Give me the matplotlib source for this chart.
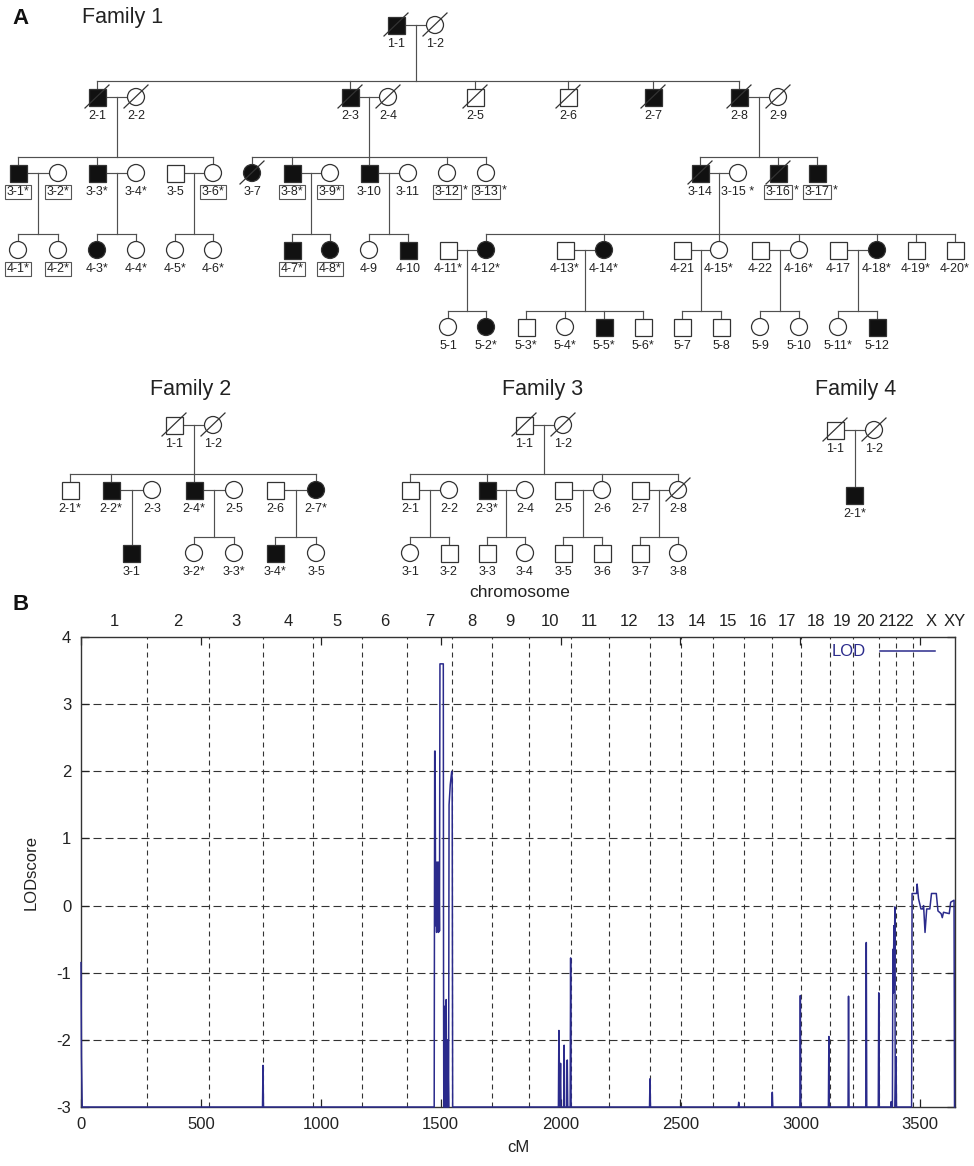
import matplotlib.pyplot as plt
from matplotlib.patches import Rectangle, Circle
from matplotlib.transforms import blended_transform_factory

plt.rcParams['font.family'] = ['Liberation Sans', 'DejaVu Sans']
plt.rcParams['axes.unicode_minus'] = False

# ---------------- pedigree data ----------------
# (id, sex, affected, deceased, label)   "[..]" marks the boxed part of a label
fam1_people = [
    ('1-1', 'm', 1, 1, '1-1'), ('1-2', 'f', 0, 1, '1-2'),
    ('2-1', 'm', 1, 1, '2-1'), ('2-2', 'f', 0, 1, '2-2'),
    ('2-3', 'm', 1, 1, '2-3'), ('2-4', 'f', 0, 1, '2-4'),
    ('2-5', 'm', 0, 1, '2-5'), ('2-6', 'm', 0, 1, '2-6'),
    ('2-7', 'm', 1, 1, '2-7'), ('2-8', 'm', 1, 1, '2-8'), ('2-9', 'f', 0, 1, '2-9'),
    ('3-1', 'm', 1, 0, '[3-1*]'), ('3-2', 'f', 0, 0, '[3-2*]'),
    ('3-3', 'm', 1, 0, '3-3*'), ('3-4', 'f', 0, 0, '3-4*'),
    ('3-5', 'm', 0, 0, '3-5'), ('3-6', 'f', 0, 0, '[3-6*]'),
    ('3-7', 'f', 1, 1, '3-7'), ('3-8', 'm', 1, 0, '[3-8*]'), ('3-9', 'f', 0, 0, '[3-9*]'),
    ('3-10', 'm', 1, 0, '3-10'), ('3-11', 'f', 0, 0, '3-11'),
    ('3-12', 'f', 0, 0, '[3-12]*'), ('3-13', 'f', 0, 0, '[3-13]*'),
    ('3-14', 'm', 1, 1, '3-14'), ('3-15', 'f', 0, 0, '3-15 *'),
    ('3-16', 'm', 1, 1, '[3-16]*'), ('3-17', 'm', 1, 0, '[3-17]*'),
    ('4-1', 'f', 0, 0, '[4-1*]'), ('4-2', 'f', 0, 0, '[4-2*]'),
    ('4-3', 'f', 1, 0, '4-3*'), ('4-4', 'f', 0, 0, '4-4*'),
    ('4-5', 'f', 0, 0, '4-5*'), ('4-6', 'f', 0, 0, '4-6*'),
    ('4-7', 'm', 1, 0, '[4-7*]'), ('4-8', 'f', 1, 0, '[4-8*]'),
    ('4-9', 'f', 0, 0, '4-9'), ('4-10', 'm', 1, 0, '4-10'),
    ('4-11', 'm', 0, 0, '4-11*'), ('4-12', 'f', 1, 0, '4-12*'),
    ('4-13', 'm', 0, 0, '4-13*'), ('4-14', 'f', 1, 0, '4-14*'),
    ('4-21', 'm', 0, 0, '4-21'), ('4-15', 'f', 0, 0, '4-15*'),
    ('4-22', 'm', 0, 0, '4-22'), ('4-16', 'f', 0, 0, '4-16*'),
    ('4-17', 'm', 0, 0, '4-17'), ('4-18', 'f', 1, 0, '4-18*'),
    ('4-19', 'm', 0, 0, '4-19*'), ('4-20', 'm', 0, 0, '4-20*'),
    ('5-1', 'f', 0, 0, '5-1'), ('5-2', 'f', 1, 0, '5-2*'),
    ('5-3', 'm', 0, 0, '5-3*'), ('5-4', 'f', 0, 0, '5-4*'),
    ('5-5', 'm', 1, 0, '5-5*'), ('5-6', 'm', 0, 0, '5-6*'),
    ('5-7', 'm', 0, 0, '5-7'), ('5-8', 'm', 0, 0, '5-8'),
    ('5-9', 'f', 0, 0, '5-9'), ('5-10', 'f', 0, 0, '5-10'),
    ('5-11', 'f', 0, 0, '5-11*'), ('5-12', 'm', 1, 0, '5-12'),
]
fam1_unions = [
    (('1-1', '1-2'), ['2-1', '2-3', '2-5', '2-6', '2-7', '2-8']),
    (('2-1', '2-2'), ['3-1', '3-3', '3-6']),
    (('2-3', '2-4'), ['3-7', '3-8', '3-10', '3-12', '3-13']),
    (('2-8', '2-9'), ['3-14', '3-16', '3-17']),
    (('3-1', '3-2'), ['4-1', '4-2']),
    (('3-3', '3-4'), ['4-3', '4-4']),
    (('3-5', '3-6'), ['4-5', '4-6']),
    (('3-8', '3-9'), ['4-7', '4-8']),
    (('3-10', '3-11'), ['4-9', '4-10']),
    (('3-14', '3-15'), ['4-12', '4-14', '4-15', '4-16', '4-18', '4-19', '4-20']),
    (('4-11', '4-12'), ['5-1', '5-2']),
    (('4-13', '4-14'), ['5-3', '5-4', '5-5', '5-6']),
    (('4-21', '4-15'), ['5-7', '5-8']),
    (('4-22', '4-16'), ['5-9', '5-10']),
    (('4-17', '4-18'), ['5-11', '5-12']),
]

fam2_people = [
    ('1-1', 'm', 0, 1, '1-1'), ('1-2', 'f', 0, 1, '1-2'),
    ('2-1', 'm', 0, 0, '2-1*'), ('2-2', 'm', 1, 0, '2-2*'), ('2-3', 'f', 0, 0, '2-3'),
    ('2-4', 'm', 1, 0, '2-4*'), ('2-5', 'f', 0, 0, '2-5'),
    ('2-6', 'm', 0, 0, '2-6'), ('2-7', 'f', 1, 0, '2-7*'),
    ('3-1', 'm', 1, 0, '3-1'), ('3-2', 'f', 0, 0, '3-2*'), ('3-3', 'f', 0, 0, '3-3*'),
    ('3-4', 'm', 1, 0, '3-4*'), ('3-5', 'f', 0, 0, '3-5'),
]
fam2_unions = [
    (('1-1', '1-2'), ['2-1', '2-2', '2-4', '2-7']),
    (('2-2', '2-3'), ['3-1']),
    (('2-4', '2-5'), ['3-2', '3-3']),
    (('2-6', '2-7'), ['3-4', '3-5']),
]

fam3_people = [
    ('1-1', 'm', 0, 1, '1-1'), ('1-2', 'f', 0, 1, '1-2'),
    ('2-1', 'm', 0, 0, '2-1'), ('2-2', 'f', 0, 0, '2-2'),
    ('2-3', 'm', 1, 0, '2-3*'), ('2-4', 'f', 0, 0, '2-4'),
    ('2-5', 'm', 0, 0, '2-5'), ('2-6', 'f', 0, 0, '2-6'),
    ('2-7', 'm', 0, 0, '2-7'), ('2-8', 'f', 0, 1, '2-8'),
    ('3-1', 'f', 0, 0, '3-1'), ('3-2', 'm', 0, 0, '3-2'),
    ('3-3', 'm', 0, 0, '3-3'), ('3-4', 'f', 0, 0, '3-4'),
    ('3-5', 'm', 0, 0, '3-5'), ('3-6', 'm', 0, 0, '3-6'),
    ('3-7', 'm', 0, 0, '3-7'), ('3-8', 'f', 0, 0, '3-8'),
]
fam3_unions = [
    (('1-1', '1-2'), ['2-1', '2-3', '2-6', '2-8']),
    (('2-1', '2-2'), ['3-1', '3-2']),
    (('2-3', '2-4'), ['3-3', '3-4']),
    (('2-5', '2-6'), ['3-5', '3-6']),
    (('2-7', '2-8'), ['3-7', '3-8']),
]

fam4_people = [('1-1', 'm', 0, 1, '1-1'), ('1-2', 'f', 0, 1, '1-2'), ('2-1', 'm', 1, 0, '2-1*')]
fam4_unions = [(('1-1', '1-2'), ['2-1'])]

# ---------------- pedigree layout (pixels) ----------------
fam1_x = {'1-1': 396, '1-2': 435,
          '2-1': 97, '2-2': 136, '2-3': 350, '2-4': 388, '2-5': 475, '2-6': 568,
          '2-7': 653, '2-8': 739, '2-9': 778,
          '3-1': 18, '3-2': 58, '3-3': 97, '3-4': 136, '3-5': 175, '3-6': 213,
          '3-7': 252, '3-8': 292, '3-9': 330, '3-10': 369, '3-11': 408, '3-12': 447,
          '3-13': 486, '3-14': 700, '3-15': 738, '3-16': 778, '3-17': 817,
          '4-1': 18, '4-2': 58, '4-3': 97, '4-4': 136, '4-5': 175, '4-6': 213,
          '4-7': 292, '4-8': 330, '4-9': 369, '4-10': 408, '4-11': 448, '4-12': 486,
          '4-13': 565, '4-14': 604, '4-21': 682, '4-15': 719, '4-22': 760, '4-16': 799,
          '4-17': 838, '4-18': 877, '4-19': 916, '4-20': 955,
          '5-1': 448, '5-2': 486, '5-3': 526, '5-4': 565, '5-5': 604, '5-6': 643,
          '5-7': 682, '5-8': 721, '5-9': 760, '5-10': 799, '5-11': 838, '5-12': 877}
fam1_y = [25, 97, 173, 250, 327]
fam2_x = {'1-1': 174, '1-2': 213,
          '2-1': 70, '2-2': 111, '2-3': 152, '2-4': 194, '2-5': 234, '2-6': 275, '2-7': 316,
          '3-1': 131.5, '3-2': 194, '3-3': 234, '3-4': 275, '3-5': 316}
fam2_y = [425, 490, 553]
fam3_x = {'1-1': 524, '1-2': 563,
          '2-1': 410, '2-2': 449, '2-3': 487, '2-4': 525, '2-5': 563, '2-6': 602,
          '2-7': 640, '2-8': 678,
          '3-1': 410, '3-2': 449, '3-3': 487, '3-4': 525, '3-5': 563, '3-6': 602,
          '3-7': 640, '3-8': 678}
fam3_y = [425, 490, 553]
fam4_x = {'1-1': 835, '1-2': 874, '2-1': 854.5}
fam4_y = [430, 495]

# ---------------- linkage data ----------------
lod_cm = [0, 2, 5,
          757, 759, 761,
          1473, 1475, 1477, 1479, 1481, 1483, 1485, 1487, 1489, 1491, 1493, 1495, 1497, 1511,
          1512, 1513, 1515, 1517, 1519, 1521, 1523, 1525, 1527, 1529, 1531, 1533, 1535, 1540,
          1546, 1548, 1550,
          1991, 1993, 1995, 1997, 2000, 2002, 2013, 2015, 2017, 2026, 2028, 2030, 2040, 2042, 2044,
          2371, 2373, 2375,
          2741, 2743, 2745,
          2881, 2883, 2885,
          2998, 3000, 3002,
          3117, 3119, 3121,
          3199, 3201, 3203,
          3273, 3275, 3277,
          3325, 3327, 3329,
          3377, 3379, 3381, 3384, 3386, 3388, 3390, 3392, 3394, 3396, 3399, 3401,
          3464, 3466, 3473, 3485, 3487, 3493, 3503, 3511, 3514, 3520, 3527, 3540, 3547,
          3567, 3574, 3587, 3592, 3597, 3621, 3627, 3641, 3643]
lod_score = [-0.85, -2.25, -3,
             -3, -2.38, -3,
             -3, 2.3, 2.3, -0.3, 0.6, -0.4, 0.65, -0.35, 0.6, -0.4, 0.65, -0.38, 3.6, 3.6,
             -1.2, -3, -1.5, -3, -1.8, -3, -1.4, -3, -2.0, -3, -2.4, -3, 1.5, 1.8,
             2.0, 1.9, -3,
             -3, -1.86, -2.4, -3, -2.35, -3, -3, -2.08, -3, -3, -2.3, -3, -3, -0.78, -3,
             -3, -2.58, -3,
             -3, -2.93, -3,
             -3, -2.78, -3,
             -3, -1.34, -3,
             -3, -1.95, -3,
             -3, -1.35, -3,
             -3, -0.55, -3,
             -3, -1.3, -3,
             -3, -2.92, -3, -3, -0.65, -1.3, -0.3, -1.2, -0.02, -3, -2.25, -3,
             -3, 0.18, 0.18, 0.18, 0.32, 0.1, -0.05, -0.05, 0.0, -0.4, -0.05, -0.05, 0.18,
             0.18, -0.08, -0.12, -0.18, -0.1, -0.12, 0.05, 0.08, -3]
chrom_names = [str(i) for i in range(1, 23)] + ['X', 'XY']
chrom_bounds = [0, 276, 534, 759, 966, 1173, 1361, 1549, 1712, 1868, 2042, 2201, 2373,
                2504, 2635, 2763, 2883, 3004, 3125, 3219, 3326, 3399, 3470, 3645]
chrom_label_at = [(a + b) / 2 for a, b in zip(chrom_bounds[:-1], chrom_bounds[1:-1])] + [3547, 3645]

W, H = 974, 1166
fig = plt.figure(figsize=(W / 100, H / 100), dpi=100)

# overlay in pixel coordinates for the pedigrees
pa = fig.add_axes([0, 0, 1, 1])
pa.set_xlim(0, W)
pa.set_ylim(H, 0)
pa.axis('off')

R = 8.5
LC = '#505050'
LW = 0.85
TXT = '#222222'
LFS = 9


def draw_label(x, y, lab):
    if lab.startswith('['):
        inner, rest = lab[1:].split(']')
        t = pa.text(x, y, inner, ha='center', va='center', fontsize=LFS, color=TXT,
                    bbox=dict(boxstyle='square,pad=0.1', fc='white', ec='#555555', lw=0.8))
        if rest:
            pa.annotate(rest, xy=(1, 0.5), xycoords=t, xytext=(2.5, 1), textcoords='offset points',
                        ha='left', va='center', fontsize=LFS, color=TXT)
    else:
        pa.text(x, y, lab, ha='center', va='center', fontsize=LFS, color=TXT)


def draw_family(people, xs, ys, unions):
    def pos(pid):
        return xs[pid], ys[int(pid.split('-')[0]) - 1]

    for (a, b), kids in unions:
        xa, ya = pos(a)
        xb, yb = pos(b)
        lo, hi = sorted([xa, xb])
        pa.plot([lo + R, hi - R], [ya, ya], color=LC, lw=LW)
        mx = (xa + xb) / 2
        ky = pos(kids[0])[1]
        sy = ky - 16
        kx = [pos(k)[0] for k in kids]
        if len(kids) == 1 and abs(kx[0] - mx) < 1:
            pa.plot([mx, mx], [ya, ky - R], color=LC, lw=LW)
            continue
        pa.plot([mx, mx], [ya, sy], color=LC, lw=LW)
        pa.plot([min(kx + [mx]), max(kx + [mx])], [sy, sy], color=LC, lw=LW)
        for x in kx:
            pa.plot([x, x], [sy, ky - R], color=LC, lw=LW)

    for pid, sex, aff, dec, lab in people:
        x, y = pos(pid)
        fc = '#111111' if aff else 'white'
        if sex == 'm':
            pa.add_patch(Rectangle((x - R, y - R), 2 * R, 2 * R, fc=fc, ec='#333333', lw=0.9, zorder=3))
        else:
            pa.add_patch(Circle((x, y), R, fc=fc, ec='#333333', lw=0.9, zorder=3))
        if dec:
            pa.plot([x - 12, x + 12], [y + 11, y - 12], color='#333333', lw=0.9, zorder=4)
        draw_label(x, y + 19, lab)


draw_family(fam1_people, fam1_x, fam1_y, fam1_unions)
draw_family(fam2_people, fam2_x, fam2_y, fam2_unions)
draw_family(fam3_people, fam3_x, fam3_y, fam3_unions)
draw_family(fam4_people, fam4_x, fam4_y, fam4_unions)

pa.text(12, 19, 'A', fontsize=16, fontweight='bold', va='center', ha='left', color='#111111')
pa.text(12, 604, 'B', fontsize=16, fontweight='bold', va='center', ha='left', color='#111111')
pa.text(82, 18, 'Family 1', fontsize=15.5, va='center', ha='left', color=TXT)
pa.text(191, 390, 'Family 2', fontsize=15.5, va='center', ha='center', color=TXT)
pa.text(543, 390, 'Family 3', fontsize=15.5, va='center', ha='center', color=TXT)
pa.text(856, 390, 'Family 4', fontsize=15.5, va='center', ha='center', color=TXT)

# ---------------- LOD score plot ----------------
left, right, top, bottom = 81, 955, 637, 1107
ax = fig.add_axes([left / W, (H - bottom) / H, (right - left) / W, (bottom - top) / H])
navy = '#2b2b8c'
for yv in range(-2, 4):
    ax.axhline(yv, color='#333333', lw=0.8, dashes=(7.2, 3.6), zorder=1)
for b in chrom_bounds[1:-1]:
    ax.axvline(b, color='#333333', lw=0.8, dashes=(4.5, 3.6), zorder=1)
ax.plot(lod_cm, lod_score, color=navy, lw=1.1, zorder=3, clip_on=False)

ax.set_xlim(0, 3645)
ax.set_ylim(-3, 4)
ax.set_xticks(range(0, 3501, 500))
ax.set_yticks(range(-3, 5))
ax.set_yticklabels([str(v) for v in range(-3, 5)])
ax.tick_params(direction='in', top=True, right=True, length=6, width=0.9,
               labelsize=12, colors='#222222', pad=7)
for s in ax.spines.values():
    s.set_linewidth(1.0)
    s.set_color('#333333')
ax.set_xlabel('cM', fontsize=12, color='#222222', labelpad=6)
ax.set_ylabel('LODscore', fontsize=12, color='#222222', labelpad=13)

tr = blended_transform_factory(ax.transData, ax.transAxes)
for name, xc in zip(chrom_names, chrom_label_at):
    ax.text(xc, 1.032, name, transform=tr, ha='center', va='center',
            fontsize=12, color='#222222')
ax.text(0.502, 1.094, 'chromosome', transform=ax.transAxes, ha='center', va='center',
        fontsize=12.5, color='#222222')

ax.text(0.898, 0.97, 'LOD', transform=ax.transAxes, ha='right', va='center',
        fontsize=12, color=navy)
ax.plot([0.914, 0.977], [0.97, 0.97], transform=ax.transAxes, color=navy, lw=1.1)

fig.savefig('out.png', dpi=100)
